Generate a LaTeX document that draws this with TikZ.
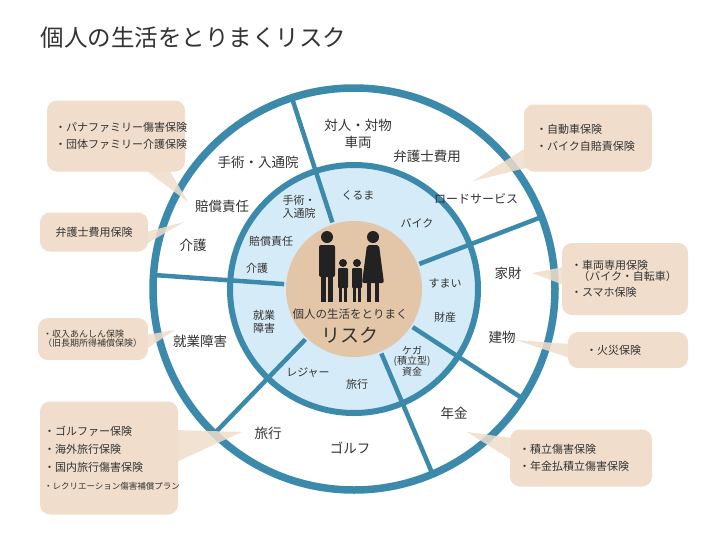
\documentclass[tikz,border=0pt]{standalone}
\usepackage{fontspec}
\setmainfont{Noto Sans CJK JP}
\usetikzlibrary{calc}
\definecolor{ringc}{HTML}{3C8AAB}
\definecolor{innerc}{HTML}{D5EBF7}
\definecolor{centerc}{HTML}{E3C6A8}
\definecolor{boxc}{HTML}{F0DDCB}
\definecolor{textc}{HTML}{333333}
\definecolor{figc}{HTML}{222222}
\newcommand{\fs}[1]{\fontsize{#1}{#1}\selectfont}
\begin{document}
\begin{tikzpicture}[
    x = 1pt, y = -1pt,
    outer/.style = {text = textc, font = \fs{13.5}},
    inner/.style = {text = textc, font = \fs{11}, align = center,
      inner sep = 0pt},
    callout/.style = {fill = boxc, rounded corners = 10pt,
      text = textc, align = left, font = \fs{11}, inner sep = 0pt},
    wedge/.style = {boxc, opacity = 0.85},
    ]
    \useasboundingbox (0, 0) rectangle (715, 536);
    \fill [white] (0, 0) rectangle (715, 536);

    \node [anchor = west, text = textc, font = \fs{23.5}, name = title]
    at (37, 38) {個人の生活をとりまくリスク};

    \coordinate (C) at (354, 289);

    % rings
    \draw [ringc, line width = 7.5pt] (C) circle [radius = 201];
    \fill [innerc] (C) circle [radius = 124];
    \draw [ringc, line width = 6pt] (C) circle [radius = 124];
    \fill [centerc] (C) circle [radius = 68];
    \foreach \a in {-108, -21, 33, 67, 134, -176}
    \draw [ringc, line width = 4.5pt]
    ($(C) + (\a: 70)$) -- ($(C) + (\a: 201)$);

    % family
    \begin{scope}[figc]
      \fill (327, 237) circle [radius = 6];
      \fill [rounded corners = 2pt] (319, 245) rectangle (335, 277);
      \fill (321, 270) rectangle (326, 302);
      \fill (328, 270) rectangle (333, 302);
      \fill (373, 237) circle [radius = 6];
      \fill [rounded corners = 2pt] (367, 245) -- (379, 245)
      -- (384, 283) -- (362, 283) -- cycle;
      \fill (367, 280) rectangle (371, 302);
      \fill (375, 280) rectangle (379, 302);
      \foreach \k in {343, 357} {
        \fill (\k, 263) circle [radius = 4];
        \fill [rounded corners = 1pt] (\k - 5, 268) rectangle (\k + 5, 288);
        \fill (\k - 4, 286) rectangle (\k - 1, 302);
        \fill (\k + 1, 286) rectangle (\k + 4, 302);
      }
    \end{scope}
    \node [text = textc, font = \fs{11.5}, name = center_a] at (350, 314)
    {個人の生活をとりまく};
    \node [text = textc, font = \fs{19}, name = center_b] at (350, 335)
    {リスク};

    % outer ring labels
    \node [outer, name = o_taijin] at (358, 125) {対人・対物};
    \node [outer, name = o_sharyo] at (358, 142) {車両};
    \node [outer, name = o_bengo] at (427, 156) {弁護士費用};
    \node [outer, font = \fs{12}, name = o_road] at (476, 199)
    {ロードサービス};
    \node [outer, name = o_kazai] at (508, 273) {家財};
    \node [outer, name = o_tatemono] at (502, 337) {建物};
    \node [outer, name = o_nenkin] at (454, 413) {年金};
    \node [outer, name = o_golf] at (350, 448) {ゴルフ};
    \node [outer, name = o_ryoko] at (268, 433) {旅行};
    \node [outer, name = o_shugyo] at (200, 341) {就業障害};
    \node [outer, name = o_kaigo] at (193, 245) {介護};
    \node [outer, name = o_baisho] at (222, 206) {賠償責任};
    \node [outer, name = o_shujutsu] at (258, 162) {手術・入通院};

    % inner ring labels
    \node [inner, name = i_kuruma] at (358, 195) {くるま};
    \node [inner, name = i_bike] at (417, 223) {バイク};
    \node [inner, name = i_sumai] at (445, 283) {すまい};
    \node [inner, name = i_zaisan] at (445, 317) {財産};
    \node [inner, font = \fs{10}, name = i_kega] at (412, 361)
    {ケガ\\(積立型)\\資金};
    \node [inner, name = i_ryoko] at (357, 384) {旅行};
    \node [inner, name = i_leisure] at (308, 373) {レジャー};
    \node [inner, name = i_shugyo] at (264, 322) {就業\\[2pt]障害};
    \node [inner, name = i_kaigo] at (257, 268) {介護};
    \node [inner, name = i_baisho] at (271, 241) {賠償責任};
    \node [inner, name = i_shujutsu] at (299, 207) {手術・\\[2pt]入通院};

    % callouts
    \node [callout, minimum width = 138, minimum height = 71,
    text width = 122, name = b_family] at (116, 136)
    {・パナファミリー傷害保険\\[6pt]・団体ファミリー介護保険};
    \node [callout, minimum width = 108, minimum height = 39,
    align = center, name = b_bengo] at (94, 232) {弁護士費用保険};
    \node [callout, minimum width = 110, minimum height = 42,
    text width = 100, font = \fs{9}, name = b_shunyu] at (93, 339)
    {・収入あんしん保険\\（旧長期所得補償保険）};
    \node [callout, minimum width = 138, minimum height = 113,
    text width = 130, font = \fs{11}, name = b_golf] at (109, 458)
    {・ゴルファー保険\\[7pt]・海外旅行保険\\[7pt]・国内旅行傷害保険\\[7pt]%
      {\fs{8.5}・レクリエーション傷害補償プラン}};
    \node [callout, minimum width = 128, minimum height = 67,
    text width = 104, name = b_car] at (588, 138)
    {・自動車保険\\[6pt]・バイク自賠責保険};
    \node [callout, minimum width = 126, minimum height = 72,
    text width = 108, name = b_sharyo] at (625, 279)
    {・車両専用保険\\\ \ （バイク・自転車）\\[5pt]・スマホ保険};
    \node [callout, minimum width = 120, minimum height = 36,
    text width = 84, name = b_kasai] at (628, 350) {・火災保険};
    \node [callout, minimum width = 142, minimum height = 57,
    text width = 124, name = b_tsumitate] at (581, 458)
    {・積立傷害保険\\[6pt]・年金払積立傷害保険};

    % pointers
    \coordinate (t_family) at (188, 202);
    \coordinate (t_bengo) at (184, 222);
    \coordinate (t_shunyu) at (175, 330);
    \coordinate (t_golf) at (242, 432);
    \coordinate (t_car) at (473, 181);
    \coordinate (t_sharyo) at (532, 273);
    \coordinate (t_kasai) at (516, 340);
    \coordinate (t_tsumitate) at (467, 432);
    \fill [wedge] ($(b_family.south east) + (-40, -2)$) -- (t_family)
    -- ($(b_family.south east) + (-16, -2)$) -- cycle;
    \fill [wedge] ($(b_bengo.east) + (-2, 0)$) -- (t_bengo)
    -- ($(b_bengo.east) + (-2, 12)$) -- cycle;
    \fill [wedge] ($(b_shunyu.east) + (-2, -4)$) -- (t_shunyu)
    -- ($(b_shunyu.east) + (-2, 10)$) -- cycle;
    \fill [wedge] ($(b_golf.east) + (-2, -28)$) -- (t_golf)
    -- ($(b_golf.east) + (-2, 4)$) -- cycle;
    \fill [wedge] ($(b_car.west) + (2, 10)$) -- (t_car)
    -- ($(b_car.west) + (2, 30)$) -- cycle;
    \fill [wedge] ($(b_sharyo.west) + (2, -12)$) -- (t_sharyo)
    -- ($(b_sharyo.west) + (2, 6)$) -- cycle;
    \fill [wedge] ($(b_kasai.west) + (2, -6)$) -- (t_kasai)
    -- ($(b_kasai.west) + (2, 8)$) -- cycle;
    \fill [wedge] ($(b_tsumitate.west) + (2, -20)$) -- (t_tsumitate)
    -- ($(b_tsumitate.west) + (2, 2)$) -- cycle;

  \end{tikzpicture}
\end{document}
